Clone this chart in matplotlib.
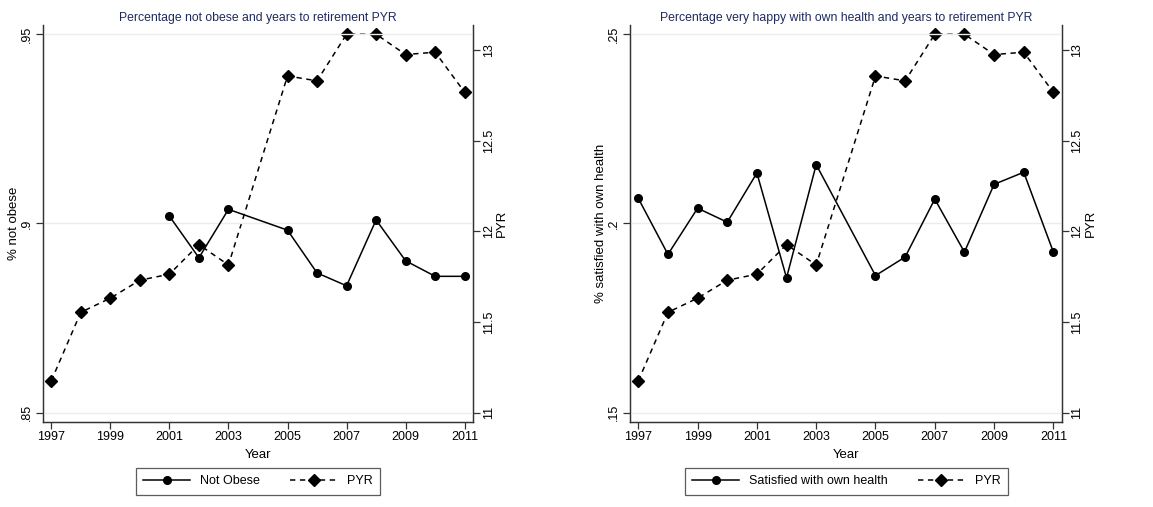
import matplotlib
matplotlib.use("Agg")
import matplotlib.pyplot as plt
from matplotlib.lines import Line2D

plt.rcParams["font.family"] = ["Liberation Sans", "DejaVu Sans"]

years = [1997, 1998, 1999, 2000, 2001, 2002, 2003, 2005, 2006, 2007, 2008, 2009, 2010, 2011]
pyr = [11.175, 11.553, 11.631, 11.730, 11.763, 11.926, 11.814, 12.856, 12.829, 13.086, 13.086, 12.974, 12.987, 12.766]

obese_years = [2001, 2002, 2003, 2005, 2006, 2007, 2008, 2009, 2010, 2011]
not_obese = [0.9019, 0.8909, 0.9037, 0.8982, 0.8869, 0.8835, 0.9009, 0.8901, 0.8860, 0.8860]

health_years = years
satisfied = [0.2066, 0.1918, 0.2040, 0.2003, 0.2133, 0.1856, 0.2155, 0.1862, 0.1911, 0.2064,
             0.1924, 0.2103, 0.2135, 0.1924]

x_ticks = [1997, 1999, 2001, 2003, 2005, 2007, 2009, 2011]
pyr_ticks = [11, 11.5, 12, 12.5, 13]
pyr_labels = ["11", "11.5", "12", "12.5", "13"]

panels = [
    dict(rect=[0.0373, 0.1683, 0.3729, 0.7824], x=obese_years, y=not_obese,
         yticks=[0.85, 0.90, 0.95], ylabels=[".85", ".9", ".95"], ylim=(0.8476, 0.9524),
         ylabel="% not obese", label="Not Obese",
         title="Percentage not obese and years to retirement PYR",
         legend_rect=[136 / 1153, 1 - 495 / 507, 244 / 1153, 28 / 507]),
    dict(rect=[0.5464, 0.1683, 0.3744, 0.7824], x=health_years, y=satisfied,
         yticks=[0.15, 0.20, 0.25], ylabels=[".15", ".2", ".25"], ylim=(0.1476, 0.2524),
         ylabel="% satisfied with own health", label="Satisfied with own health",
         title="Percentage very happy with own health and years to retirement PYR",
         legend_rect=[682 / 1153, 1 - 495 / 507, 329 / 1153, 28 / 507]),
]

fig = plt.figure(figsize=(11.53, 5.07), dpi=100)
spine_col = "#333333"

for p in panels:
    ax = fig.add_axes(p["rect"])
    ax2 = ax.twinx()
    ax.set_zorder(ax2.get_zorder() + 1)
    ax.patch.set_visible(False)

    ax.plot(p["x"], p["y"], color="black", lw=1.1, marker="o", ms=5.5)
    ax2.plot(years, pyr, color="black", lw=1.1, ls=(0, (3.5, 3)), marker="D", ms=6)

    ax.set_xlim(1996.72, 2011.28)
    ax.set_ylim(*p["ylim"])
    ax2.set_ylim(10.95, 13.137)
    ax.set_xticks(x_ticks)
    ax.set_xticklabels([str(v) for v in x_ticks], fontsize=9)
    ax.set_yticks(p["yticks"])
    ax.set_yticklabels(p["ylabels"], fontsize=9, rotation=90, va="center")
    ax2.set_yticks(pyr_ticks)
    ax2.set_yticklabels(pyr_labels, fontsize=9, rotation=90, va="center")
    ax.grid(axis="y", color="#ececec", lw=1)
    ax.set_axisbelow(True)

    for a in (ax, ax2):
        a.spines["top"].set_visible(False)
        for s in ("left", "right", "bottom"):
            a.spines[s].set_color(spine_col)
            a.spines[s].set_linewidth(0.9)
        a.tick_params(length=5, width=0.9, color=spine_col, pad=2)

    ax.set_xlabel("Year", fontsize=9.5, labelpad=4)
    ax.set_ylabel(p["ylabel"], fontsize=9.5, labelpad=1)
    ax2.set_ylabel("PYR", fontsize=9.5, labelpad=1)
    ax.set_title(p["title"], fontsize=8.8, color="#1f2a5c", pad=3)

    lax = fig.add_axes(p["legend_rect"])
    lax.axis("off")
    handles = [
        Line2D([], [], color="black", lw=1.1, marker="o", ms=5.5),
        Line2D([], [], color="black", lw=1.1, ls=(0, (3.5, 3)), marker="D", ms=6),
    ]
    leg = lax.legend(handles, [p["label"], "PYR"], ncol=2, loc="center",
                     fontsize=9, frameon=True, fancybox=False, handlelength=3.75,
                     columnspacing=2.4, borderpad=0.6, handletextpad=0.8,
                     borderaxespad=0)
    leg.get_frame().set_edgecolor("#333333")
    leg.get_frame().set_linewidth(0.9)

fig.savefig("out.png", dpi=100)
